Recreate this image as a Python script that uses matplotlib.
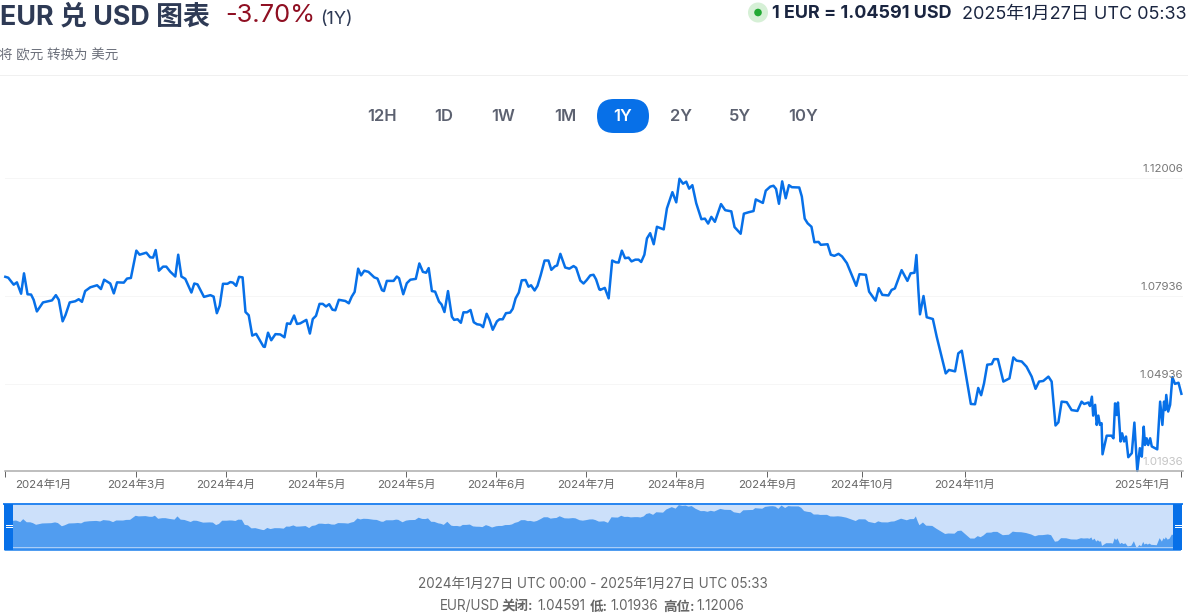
import matplotlib
matplotlib.use("Agg")
import matplotlib.pyplot as plt
from matplotlib.patches import Circle, FancyBboxPatch, Rectangle
from matplotlib.transforms import ScaledTranslation

plt.rcParams['font.family'] = ['Inter', 'Noto Sans CJK SC', 'DejaVu Sans']

# days since 2024-01-27 and EUR/USD rate
days = [0, 0.9, 2.6, 3.6, 4.9, 5.8, 6.9, 8.0, 8.8, 9.8, 11.7, 14.5, 15.7, 16.6, 17.8, 18.7, 20.0, 21.7, 22.8, 23.8,
        24.8, 26.4, 28.5, 29.7, 30.7, 32.6, 33.7, 34.7, 36.8, 37.8, 39.0, 40.7, 41.7, 43.8, 45.0, 45.9, 46.7, 47.7, 49.0, 50.0,
        51.2, 52.8, 53.7, 54.7, 55.9, 57.8, 58.7, 59.7, 61.7, 63.7, 64.7, 65.7, 66.6, 67.6, 69.0, 69.9, 70.7, 71.7, 72.6, 73.7,
        74.6, 75.6, 76.7, 77.9, 80.2, 80.6, 81.6, 82.6, 83.9, 85.4, 86.7, 87.5, 88.5, 89.7, 90.6,
        91.6, 93.5, 94.6, 95.5, 96.5, 97.6, 98.6, 99.6, 100.6, 101.6, 102.5, 103.6, 105.6, 106.7, 107.6, 108.5, 109.6, 110.5, 111.5, 112.8,
        114.6, 115.6, 117.0, 117.6, 118.5, 120.6, 121.6, 122.3, 123.6, 124.7, 125.8, 127.5, 128.6, 129.7, 130.7, 131.5, 132.5, 133.5, 134.7, 135.5,
        136.4, 137.5, 138.7, 139.4, 140.5, 141.5, 142.3, 143.4, 144.5, 145.5, 146.5, 147.6, 148.4, 149.5, 150.4, 151.4, 152.7, 153.5, 154.5, 155.5,
        156.8, 157.6, 158.5, 159.5, 160.4, 161.6, 162.5, 163.3, 164.4, 165.3, 166.3, 167.5, 168.7, 169.6, 170.7, 171.4, 172.4, 173.9, 175.2, 176.5,
        177.3, 178.6, 179.6, 180.6, 181.7, 182.7, 183.5, 184.5, 184.8,
        186.2, 187.4, 188.5, 189.6, 190.5, 191.5, 192.5, 193.6, 194.5, 195.7, 196.7, 197.5, 198.5, 199.3, 200.3, 201.4, 202.4, 204.5, 205.5, 207.2,
        208.4, 209.4, 210.5, 211.5, 212.4, 213.4, 214.6, 216.2, 217.3, 218.3, 219.3, 220.4, 222.3, 223.6, 225.5, 226.5, 228.4, 229.4, 230.9, 232.4,
        233.1, 235.3, 236.2, 237.6, 238.6, 239.4, 240.3, 241.3, 242.4, 243.4, 244.3, 246.6, 247.4, 248.3, 249.2, 250.4, 251.3, 252.6, 253.3, 255.4,
        256.4, 257.5, 258.8, 259.9, 261.4, 262.6, 264.3, 265.3, 267.3, 268.3, 270.3, 271.3, 272.4, 274.3, 275.3, 276.3,
        278.4, 280.2, 281.2, 282.4, 283.0, 283.6, 284.1, 285.2, 286.2, 288.1, 289.3, 292.1, 293.1, 295.0, 296.0, 297.1, 298.1, 299.9, 301.2, 302.2,
        303.1, 304.0, 305.0, 306.4, 307.1, 308.3, 310.0, 311.9, 313.1, 314.1, 315.7, 317.2, 318.8, 320.0, 321.1, 322.4, 324.0, 325.0, 326.2, 327.1,
        328.1, 329.7, 331.2, 333.0, 334.3, 335.1, 336.4, 336.9, 337.5, 337.9, 338.5, 339.0, 339.5, 340.0, 340.5, 340.8, 342.1, 343.6, 344.2, 344.7,
        345.2, 345.6, 346.4, 346.9, 347.5, 348.1, 348.8, 349.9, 350.7, 351.6, 352.4, 353.0, 353.6, 354.0, 354.5, 355.0, 355.6, 356.1, 356.8, 357.8,
        358.7, 359.4, 359.9, 360.3, 360.6, 361.2, 361.8, 362.5, 363.3, 364.4, 365.3]
rates = [1.0861, 1.0858, 1.0834, 1.0842, 1.0803, 1.0873, 1.0801, 1.0800, 1.0782, 1.0742, 1.0773, 1.0780, 1.0798, 1.0782, 1.0708, 1.0730, 1.0773, 1.0777, 1.0784, 1.0775,
         1.0812, 1.0825, 1.0832, 1.0819, 1.0851, 1.0838, 1.0804, 1.0842, 1.0841, 1.0855, 1.0857, 1.0951, 1.0937, 1.0944, 1.0928, 1.0927, 1.0953, 1.0882, 1.0896, 1.0896,
         1.0879, 1.0862, 1.0937, 1.0862, 1.0854, 1.0807, 1.0838, 1.0835, 1.0792, 1.0798, 1.0793, 1.0736, 1.0762, 1.0837, 1.0837, 1.0843, 1.0841, 1.0830, 1.0861, 1.0859,
         1.0740, 1.0729, 1.0659, 1.0665, 1.0621, 1.0620, 1.0669, 1.0643, 1.0664, 1.0663, 1.0653, 1.0701, 1.0699, 1.0728, 1.0699,
         1.0701, 1.0713, 1.0666, 1.0716, 1.0727, 1.0768, 1.0768, 1.0759, 1.0767, 1.0748, 1.0746, 1.0782, 1.0778, 1.0770, 1.0793, 1.0809, 1.0889, 1.0866, 1.0882, 1.0878,
         1.0859, 1.0855, 1.0815, 1.0812, 1.0847, 1.0847, 1.0862, 1.0856, 1.0801, 1.0839, 1.0851, 1.0854, 1.0907, 1.0878, 1.0875, 1.0891, 1.0812, 1.0810, 1.0776, 1.0766,
         1.0740, 1.0812, 1.0724, 1.0713, 1.0715, 1.0703, 1.0739, 1.0739, 1.0747, 1.0705, 1.0698, 1.0696, 1.0688, 1.0734, 1.0713, 1.0679, 1.0708, 1.0715, 1.0715, 1.0736,
         1.0738, 1.0751, 1.0787, 1.0807, 1.0849, 1.0850, 1.0827, 1.0832, 1.0814, 1.0830, 1.0867, 1.0917, 1.0917, 1.0885, 1.0897, 1.0900, 1.0940, 1.0893, 1.0889, 1.0898,
         1.0892, 1.0848, 1.0838, 1.0850, 1.0866, 1.0868, 1.0852, 1.0818, 1.0816,
         1.0823, 1.0787, 1.0917, 1.0911, 1.0910, 1.0951, 1.0925, 1.0927, 1.0914, 1.0920, 1.0920, 1.0912, 1.0937, 1.0993, 1.1011, 1.0973, 1.1033, 1.1024, 1.1096, 1.1152,
         1.1117, 1.1198, 1.1181, 1.1188, 1.1164, 1.1176, 1.1114, 1.1059, 1.1061, 1.1044, 1.1067, 1.1050, 1.1111, 1.1090, 1.1086, 1.1032, 1.1009, 1.1078, 1.1083, 1.1087,
         1.1127, 1.1115, 1.1157, 1.1171, 1.1174, 1.1163, 1.1112, 1.1189, 1.1131, 1.1176, 1.1169, 1.1168, 1.1137, 1.1061, 1.1045, 1.1033, 1.0980, 1.0981, 1.0971, 1.0973,
         1.0937, 1.0933, 1.0940, 1.0931, 1.0908, 1.0876, 1.0830, 1.0870, 1.0868, 1.0810, 1.0779, 1.0822, 1.0799, 1.0797, 1.0816, 1.0821,
         1.0884, 1.0847, 1.0873, 1.0875, 1.0936, 1.0816, 1.0732, 1.0795, 1.0722, 1.0716, 1.0655, 1.0529, 1.0541, 1.0536, 1.0598, 1.0607, 1.0541, 1.0424, 1.0423, 1.0479,
         1.0454, 1.0495, 1.0559, 1.0561, 1.0578, 1.0578, 1.0501, 1.0512, 1.0584, 1.0573, 1.0570, 1.0552, 1.0518, 1.0476, 1.0501, 1.0503, 1.0518, 1.0501, 1.0350, 1.0361,
         1.0432, 1.0430, 1.0403, 1.0400, 1.0432, 1.0424, 1.0429, 1.0417, 1.0449, 1.0384, 1.0421, 1.0352, 1.0384, 1.0352, 1.0358, 1.0251, 1.0315, 1.0315, 1.0306, 1.0426,
         1.0386, 1.0429, 1.0295, 1.0323, 1.0295, 1.0312, 1.0241, 1.0255, 1.0360, 1.0194, 1.0272, 1.0243, 1.0346, 1.0283, 1.0306, 1.0283, 1.0306, 1.0278, 1.0274, 1.0268,
         1.0432, 1.0352, 1.0432, 1.0403, 1.0455, 1.0398, 1.0421, 1.0516, 1.0493, 1.0497, 1.0459]

levels = [1.12006, 1.07936, 1.04936, 1.01936]
level_labels = ['1.12006', '1.07936', '1.04936', '1.01936']
level_colors = ['#777777', '#777777', '#777777', '#c4c4c4']

tick_days = [-0.1, 40.7, 68.6, 96.6, 124.5, 152.5, 180.4, 208.4, 236.6, 266.1, 298.1, 365.2]
tick_labels = ['2024年1月', '2024年3月', '2024年4月', '2024年5月', '2024年5月', '2024年6月',
               '2024年7月', '2024年8月', '2024年9月', '2024年10月', '2024年11月', '2025年1月']

periods = ['12H', '1D', '1W', '1M', '1Y', '2Y', '5Y', '10Y']
period_x = [381.5, 444, 503, 565, 623, 681, 740, 803]

BLUE = '#0770e8'
W, H = 1188, 613
PT = 0.72  # px to points at dpi 100

fig = plt.figure(figsize=(W / 100, H / 100), dpi=100, facecolor='white')

# page axes in pixels, for the header and footer
page = fig.add_axes([0, 0, 1, 1])
page.set_xlim(0, W)
page.set_ylim(H, 0)
page.axis('off')

page.text(0, 17, 'EUR 兑 USD 图表', fontsize=26.9 * PT, fontweight='bold', color='#2e3a55', va='center')
page.text(225, 16, '-3.70%', fontsize=25.5 * PT, color='#8f0f22', va='center')
page.text(320, 19, '(1Y)', fontsize=18 * PT, color='#2e3a55', va='center')
page.text(-1, 55, '将 欧元 转换为 美元', fontsize=13.5 * PT, color='#6b6f7a', va='center')
page.plot([0, W], [75, 75], color='#f0f0f0', lw=1 * PT)

page.add_patch(Circle((758, 12.5), 10, color='#d6f0d6', lw=0))
page.add_patch(Circle((758, 12.5), 3.8, color='#22aa33', lw=0))
page.text(772, 14, '1 EUR = 1.04591 USD', fontsize=18 * PT, fontweight='bold', color='#1a2540', va='center')
page.text(962, 14, '2025年1月27日 UTC 05:33', fontsize=18 * PT, color='#1a2540', va='center')

page.add_patch(FancyBboxPatch((597, 99), 52, 34, boxstyle='round,pad=0,rounding_size=17', color=BLUE, lw=0))
for name, x in zip(periods, period_x):
    page.text(x, 116.5, name, fontsize=16.5 * PT, fontweight='semibold',
              color='white' if name == '1Y' else '#5c6170', ha='center', va='center')

page.text(593, 584, '2024年1月27日 UTC 00:00 - 2025年1月27日 UTC 05:33', fontsize=13.5 * PT,
          color='#666666', ha='center', va='center')
footer = [('EUR/USD', 440, 'normal'), ('关闭:', 502, 'bold'), ('1.04591', 537, 'normal'), ('低:', 590, 'bold'),
          ('1.01936', 610, 'normal'), ('高位:', 663, 'bold'), ('1.12006', 696, 'normal')]
for txt, x, weight in footer:
    page.text(x, 606.5, txt, fontsize=13.5 * PT, fontweight=weight, color='#666666', va='center')

# main chart
ax = fig.add_axes([5 / W, 1 - 471 / H, 1178 / W, 311 / H], facecolor='none')
ax.plot(days, rates, color=BLUE, lw=2.5 * PT, solid_joinstyle='round', clip_on=False)
ax.set_xlim(0, 365.8)
ax.set_ylim(1.01936, 1.12625)
ax.set_yticks(levels)
ax.set_yticklabels([])
ax.tick_params(axis='y', length=0)
ax.grid(axis='y', color='#f6f6f6', lw=1 * PT)
ax.set_axisbelow(True)
for side in ['top', 'left', 'right']:
    ax.spines[side].set_visible(False)
ax.spines['bottom'].set_color('#aaaaaa')
ax.spines['bottom'].set_linewidth(1.5 * PT)

ax.set_xticks(tick_days)
ax.set_xticklabels(tick_labels)
ax.tick_params(axis='x', length=6 * PT, width=1 * PT, color='#666666', labelsize=11.5 * PT, labelcolor='#666666', pad=2)
labels = ax.get_xticklabels()
labels[0].set_transform(labels[0].get_transform() + ScaledTranslation(0.385, 0, fig.dpi_scale_trans))
labels[-1].set_transform(labels[-1].get_transform() + ScaledTranslation(-0.39, 0, fig.dpi_scale_trans))

for level, txt, col in zip(levels, level_labels, level_colors):
    ax.annotate(txt, (1, level), xycoords=ax.get_yaxis_transform(), xytext=(0, 9 * PT),
                textcoords='offset points', fontsize=11.5 * PT, color=col, ha='right', va='center')

# navigator strip under the chart
nav = fig.add_axes([4 / W, 1 - 550 / H, 1178 / W, 46 / H], facecolor='#cce0fa')
nav.fill_between(days, rates, 1.0, color='#519df0', lw=0)
nav.set_xlim(0, 365.8)
nav.set_ylim(1.0146, 1.1213)
nav.set_xticks([])
nav.set_yticks([])
for side in nav.spines:
    nav.spines[side].set_visible(False)
nav.plot([0, 1], [1, 1], color='#2b87f0', lw=2 * PT, transform=nav.transAxes, clip_on=False)
nav.plot([0, 1], [0.065, 0.065], color='#a9cdf7', lw=1 * PT, transform=nav.transAxes)
nav.plot([0, 1], [0.01, 0.01], color='#2b87f0', lw=1.5 * PT, transform=nav.transAxes)

for left in [0, 1169 / 1178]:
    nav.add_patch(Rectangle((left, 0), 9 / 1178, 1, transform=nav.transAxes, color=BLUE, lw=0, zorder=5))
    for h in [0.49, 0.55]:
        nav.plot([left + 1.5 / 1178, left + 7.5 / 1178], [h, h], color='white', lw=1 * PT,
                 transform=nav.transAxes, zorder=6)

fig.savefig('out.png', dpi=100)
